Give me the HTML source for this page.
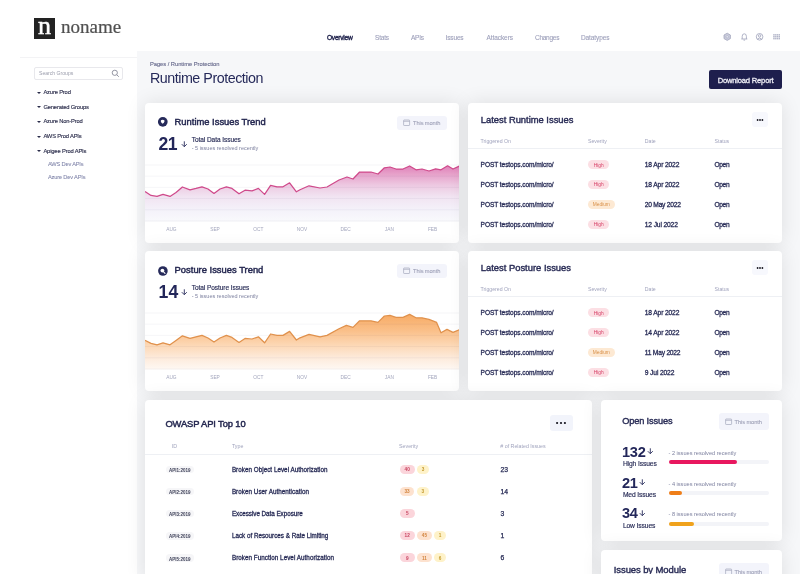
<!DOCTYPE html>
<html><head><meta charset="utf-8">
<style>
*{box-sizing:border-box;margin:0;padding:0}
html,body{width:800px;height:578px;overflow:hidden;background:#fff}
body{position:relative;font-family:"Liberation Sans",Arial,sans-serif;color:#23275a}
.a{position:absolute;white-space:nowrap;line-height:1}
.tri{position:absolute;left:36.9px;width:0;height:0;border-left:2.1px solid transparent;border-right:2.1px solid transparent;border-top:2.6px solid #2a2c4a}
</style></head><body>
<div class="a" style="left:34.00px;top:18.00px;width:21.00px;height:21.00px;background:#222"></div>
<div class="a" style="left:38px;top:13.8px;font-family:'Liberation Serif',serif;font-size:26px;color:#fff;line-height:24px;-webkit-text-stroke:0.5px #fff">n</div>
<div class="a" style="left:61px;top:15px;font-family:'Liberation Serif',serif;font-size:19px;color:#505050;line-height:24px;-webkit-text-stroke:0.22px #505050">noname</div>
<div class="a " style="left:327.00px;top:35px;font-size:6.6px;color:#23264f;letter-spacing:-0.255px;-webkit-text-stroke:0.38px #23264f;">Overview</div>
<div class="a " style="left:375.00px;top:35px;font-size:6.5px;color:#9c9fba;letter-spacing:-0.205px;-webkit-text-stroke:0.1px #9c9fba;">Stats</div>
<div class="a " style="left:411.00px;top:35px;font-size:6.5px;color:#9c9fba;letter-spacing:-0.238px;-webkit-text-stroke:0.1px #9c9fba;">APIs</div>
<div class="a " style="left:445.60px;top:35px;font-size:6.5px;color:#9c9fba;letter-spacing:-0.157px;-webkit-text-stroke:0.1px #9c9fba;">Issues</div>
<div class="a " style="left:486.40px;top:35px;font-size:6.5px;color:#9c9fba;letter-spacing:-0.063px;-webkit-text-stroke:0.1px #9c9fba;">Attackers</div>
<div class="a " style="left:535.00px;top:35px;font-size:6.5px;color:#9c9fba;letter-spacing:-0.267px;-webkit-text-stroke:0.1px #9c9fba;">Changes</div>
<div class="a " style="left:581.00px;top:35px;font-size:6.5px;color:#9c9fba;letter-spacing:-0.106px;-webkit-text-stroke:0.1px #9c9fba;">Datatypes</div>
<svg class="a" style="left:722px;top:32px" width="60" height="10" viewBox="0 0 60 10">
 <path d="M5.2 1.2 L8.4 3 L8.4 6.6 L5.2 8.4 L2.0 6.6 L2.0 3 Z" fill="#c9cbdb" stroke="#a3a6bd" stroke-width="0.8"/>
 <circle cx="5.2" cy="4.8" r="1.2" fill="#eceef5" stroke="#a3a6bd" stroke-width="0.6"/>
 <g fill="none" stroke="#a3a6bd" stroke-width="0.85">
  <path d="M19.3 7 L25.3 7 M20.2 7 L20.2 4.4 Q20.2 1.8 22.3 1.8 Q24.4 1.8 24.4 4.4 L24.4 7 M21.5 8.1 L23.1 8.1"/>
  <circle cx="37.6" cy="4.8" r="3.3"/>
  <circle cx="37.6" cy="3.9" r="1.2"/>
  <path d="M35.4 7.2 Q37.6 4.9 39.8 7.2"/>
 </g>
 <g fill="#b3b6c9">
  <rect x="51.2" y="2.1" width="1.5" height="1.5"/><rect x="53.1" y="2.1" width="1.5" height="1.5"/><rect x="55" y="2.1" width="1.5" height="1.5"/><rect x="56.9" y="2.1" width="1.1" height="1.5"/>
  <rect x="51.2" y="4" width="1.5" height="1.5"/><rect x="53.1" y="4" width="1.5" height="1.5"/><rect x="55" y="4" width="1.5" height="1.5"/><rect x="56.9" y="4" width="1.1" height="1.5"/>
  <rect x="51.2" y="5.9" width="1.5" height="1.5"/><rect x="53.1" y="5.9" width="1.5" height="1.5"/><rect x="55" y="5.9" width="1.5" height="1.5"/><rect x="56.9" y="5.9" width="1.1" height="1.5"/>
 </g>
</svg>
<div class="a" style="left:20.00px;top:57.20px;width:117.00px;height:1.00px;background:#f3f3f5"></div>
<div class="a" style="left:33.50px;top:66.50px;width:89.00px;height:13.00px;border:1px solid #e8e8ec;border-radius:2px"></div>
<div class="a " style="left:39.00px;top:71px;font-size:5.1px;color:#9a9cab;">Search Groups</div>
<svg class="a" style="left:111px;top:69px" width="9" height="9" viewBox="0 0 9 9"><g fill="none" stroke="#888a99" stroke-width="0.9"><circle cx="3.8" cy="3.8" r="2.6"/><path d="M5.7 5.7 L7.8 7.8"/></g></svg>
<div class="tri" style="top:91.7px"></div>
<div class="a " style="left:43.40px;top:90px;font-size:5.8px;color:#2c2e4c;letter-spacing:-0.167px;-webkit-text-stroke:0.14px #2c2e4c;">Azure Prod</div>
<div class="tri" style="top:106.3px"></div>
<div class="a " style="left:43.40px;top:105px;font-size:5.8px;color:#2c2e4c;letter-spacing:-0.166px;-webkit-text-stroke:0.14px #2c2e4c;">Generated Groups</div>
<div class="tri" style="top:120.7px"></div>
<div class="a " style="left:43.40px;top:119px;font-size:5.8px;color:#2c2e4c;letter-spacing:-0.165px;-webkit-text-stroke:0.14px #2c2e4c;">Azure Non-Prod</div>
<div class="tri" style="top:135.5px"></div>
<div class="a " style="left:43.40px;top:134px;font-size:5.8px;color:#2c2e4c;letter-spacing:-0.174px;-webkit-text-stroke:0.14px #2c2e4c;">AWS Prod APIs</div>
<div class="tri" style="top:150.2px"></div>
<div class="a " style="left:43.40px;top:149px;font-size:5.8px;color:#2c2e4c;letter-spacing:-0.157px;-webkit-text-stroke:0.14px #2c2e4c;">Apigee Prod APIs</div>
<div class="a " style="left:47.90px;top:162px;font-size:5.7px;color:#7e82a8;letter-spacing:-0.181px;-webkit-text-stroke:0.05px #7e82a8;">AWS Dev APIs</div>
<div class="a " style="left:47.90px;top:175px;font-size:5.7px;color:#7e82a8;letter-spacing:-0.162px;-webkit-text-stroke:0.05px #7e82a8;">Azure Dev APIs</div>
<div class="a" style="left:137.00px;top:51.40px;width:663.00px;height:522.60px;background:#f6f7f9"></div>
<div class="a " style="left:149.90px;top:62px;font-size:5.8px;color:#66698c;letter-spacing:-0.039px;-webkit-text-stroke:0.12px #66698c;">Pages / Runtime Protection</div>
<div class="a " style="left:149.90px;top:71px;font-size:14.3px;color:#262a5a;letter-spacing:-0.47px">Runtime Protection</div>
<div class="a" style="left:709.00px;top:70.00px;width:73.20px;height:19.20px;background:#1e1f4d;border-radius:2px"></div>
<div class="a " style="left:717.70px;top:77px;font-size:7.6px;color:#ececf4;letter-spacing:-0.196px;-webkit-text-stroke:0.3px #ececf4;">Download Report</div>
<div class="a" style="left:145.00px;top:103.00px;width:314.00px;height:140.10px;background:#fff;border-radius:4px;box-shadow:0 0 20px rgba(0,0,0,0.1)"></div>
<svg class="a" style="left:158px;top:117.2px" width="10" height="10" viewBox="0 0 10 10"><circle cx="4.8" cy="4.85" r="4.85" fill="#262a5a"/><path d="M2.9 3.2 Q4.65 2.3 6.4 3.2 L6.4 4.6 Q6.2 6.2 4.65 6.8 Q3.1 6.2 2.9 4.6 Z" fill="#fff"/></svg>
<div class="a " style="left:174.60px;top:117px;font-size:9.4px;color:#23264f;letter-spacing:-0.002px;-webkit-text-stroke:0.45px #23264f;">Runtime Issues Trend</div>
<div class="a " style="left:158.50px;top:136px;font-size:17.6px;font-weight:bold;color:#23275a;letter-spacing:-0.6px">21</div>
<svg class="a" style="left:181px;top:140.6px" width="7" height="7" viewBox="0 0 7 7"><g fill="none" stroke="#262a5a" stroke-width="0.9"><path d="M3.3 0.3 L3.3 5.6 M0.8 3.2 L3.3 5.7 L5.8 3.2"/></g></svg>
<div class="a " style="left:191.70px;top:137px;font-size:6.5px;color:#262a55;letter-spacing:-0.048px;-webkit-text-stroke:0.15px #262a55;">Total Data Issues</div>
<div class="a " style="left:191.70px;top:146px;font-size:5.5px;color:#7d809f;">- 5 issues resolved recently</div>
<div class="a" style="left:397.00px;top:116.00px;width:49.50px;height:13.50px;background:#f3f4fb;border-radius:3px"></div>
<svg class="a" style="left:403.0px;top:119.2px" width="8" height="7" viewBox="0 0 8 7"><g fill="none" stroke="#a4a7bb" stroke-width="0.7"><rect x="0.6" y="1.0" width="6" height="5.5" rx="0.6"/><path d="M0.6 2.3 L6.6 2.3"/></g></svg>
<div class="a " style="left:413.00px;top:121px;font-size:5.7px;color:#9fa2b8;letter-spacing:-0.091px;-webkit-text-stroke:0.1px #9fa2b8;">This month</div>
<svg class="a" style="left:145px;top:155px" width="314" height="80" viewBox="0 0 314 80">
<defs><linearGradient id="g1" gradientUnits="userSpaceOnUse" x1="0" y1="10" x2="0" y2="66"><stop offset="0" stop-color="#e07fb8"/><stop offset="0.15" stop-color="#e6a0c9"/><stop offset="0.35" stop-color="#edc8e1"/><stop offset="0.55" stop-color="#f1e3f1"/><stop offset="0.8" stop-color="#f4f2fa"/><stop offset="1" stop-color="#f9f9fc"/></linearGradient></defs>
<path d="M0.0 36.0 L6.0 40.0 L12.0 41.0 L18.0 39.0 L25.0 41.0 L31.0 37.0 L37.4 31.6 L45.0 34.4 L51.0 33.0 L57.0 31.4 L63.0 33.6 L69.0 38.0 L75.0 33.6 L81.4 31.4 L87.0 33.0 L94.0 38.4 L100.0 34.8 L107.0 35.4 L113.4 33.0 L119.6 39.0 L125.6 30.0 L132.0 31.4 L138.0 31.4 L144.6 27.4 L151.4 36.4 L155.0 34.4 L164.0 30.4 L175.0 32.6 L182.0 31.6 L194.0 24.6 L202.0 21.6 L208.0 23.6 L214.6 16.6 L226.0 16.6 L233.0 18.6 L239.4 12.4 L245.0 11.6 L251.0 13.6 L258.0 13.6 L264.6 10.6 L271.0 14.4 L277.0 13.6 L284.0 15.6 L290.6 13.4 L296.0 14.4 L302.6 10.4 L308.0 13.6 L315.0 10.4 L315 66 L0 66 Z" transform="translate(0,0.4)" fill="url(#g1)" stroke="none"/>
<g stroke="rgba(20,30,80,0.05)" stroke-width="0.8"><line x1="0" x2="314" y1="10.0" y2="10.0"/><line x1="0" x2="314" y1="21.2" y2="21.2"/><line x1="0" x2="314" y1="32.4" y2="32.4"/><line x1="0" x2="314" y1="43.6" y2="43.6"/><line x1="0" x2="314" y1="54.8" y2="54.8"/><line x1="0" x2="314" y1="66.0" y2="66.0"/></g>
<path d="M0.0 36.0 L6.0 40.0 L12.0 41.0 L18.0 39.0 L25.0 41.0 L31.0 37.0 L37.4 31.6 L45.0 34.4 L51.0 33.0 L57.0 31.4 L63.0 33.6 L69.0 38.0 L75.0 33.6 L81.4 31.4 L87.0 33.0 L94.0 38.4 L100.0 34.8 L107.0 35.4 L113.4 33.0 L119.6 39.0 L125.6 30.0 L132.0 31.4 L138.0 31.4 L144.6 27.4 L151.4 36.4 L155.0 34.4 L164.0 30.4 L175.0 32.6 L182.0 31.6 L194.0 24.6 L202.0 21.6 L208.0 23.6 L214.6 16.6 L226.0 16.6 L233.0 18.6 L239.4 12.4 L245.0 11.6 L251.0 13.6 L258.0 13.6 L264.6 10.6 L271.0 14.4 L277.0 13.6 L284.0 15.6 L290.6 13.4 L296.0 14.4 L302.6 10.4 L308.0 13.6 L315.0 10.4" transform="translate(0,0.4)" fill="none" stroke="#cf4a8b" stroke-width="1.25" stroke-linejoin="round"/>
</svg>
<div class="a" style="left:156.4px;width:30px;text-align:center;top:228.34px;font-size:4.8px;color:#a3a6bd">AUG</div>
<div class="a" style="left:200px;width:30px;text-align:center;top:228.34px;font-size:4.8px;color:#a3a6bd">SEP</div>
<div class="a" style="left:243.39999999999998px;width:30px;text-align:center;top:228.34px;font-size:4.8px;color:#a3a6bd">OCT</div>
<div class="a" style="left:287px;width:30px;text-align:center;top:228.34px;font-size:4.8px;color:#a3a6bd">NOV</div>
<div class="a" style="left:330.6px;width:30px;text-align:center;top:228.34px;font-size:4.8px;color:#a3a6bd">DEC</div>
<div class="a" style="left:374.4px;width:30px;text-align:center;top:228.34px;font-size:4.8px;color:#a3a6bd">JAN</div>
<div class="a" style="left:417.6px;width:30px;text-align:center;top:228.34px;font-size:4.8px;color:#a3a6bd">FEB</div>
<div class="a" style="left:145.00px;top:251.00px;width:314.00px;height:140.10px;background:#fff;border-radius:4px;box-shadow:0 0 20px rgba(0,0,0,0.1)"></div>
<svg class="a" style="left:158px;top:265.5px" width="10" height="10" viewBox="0 0 10 10"><circle cx="4.9" cy="5" r="4.8" fill="#262a5a"/><circle cx="4.4" cy="4.6" r="1.9" fill="#fff"/><path d="M5.6 5.9 L7.0 7.3" stroke="#fff" stroke-width="1.1" stroke-linecap="round"/></svg>
<div class="a " style="left:174.60px;top:265px;font-size:9.4px;color:#23264f;letter-spacing:0.007px;-webkit-text-stroke:0.45px #23264f;">Posture Issues Trend</div>
<div class="a " style="left:158.50px;top:284px;font-size:17.6px;font-weight:bold;color:#23275a;letter-spacing:0.1px">14</div>
<svg class="a" style="left:181px;top:288.6px" width="7" height="7" viewBox="0 0 7 7"><g fill="none" stroke="#262a5a" stroke-width="0.9"><path d="M3.3 0.3 L3.3 5.6 M0.8 3.2 L3.3 5.7 L5.8 3.2"/></g></svg>
<div class="a " style="left:191.70px;top:285px;font-size:6.5px;color:#262a55;letter-spacing:-0.047px;-webkit-text-stroke:0.15px #262a55;">Total Posture Issues</div>
<div class="a " style="left:191.70px;top:294px;font-size:5.5px;color:#7d809f;">- 5 issues resolved recently</div>
<div class="a" style="left:397.00px;top:264.00px;width:49.50px;height:13.50px;background:#f3f4fb;border-radius:3px"></div>
<svg class="a" style="left:403.0px;top:267.1px" width="8" height="7" viewBox="0 0 8 7"><g fill="none" stroke="#a4a7bb" stroke-width="0.7"><rect x="0.6" y="1.0" width="6" height="5.5" rx="0.6"/><path d="M0.6 2.3 L6.6 2.3"/></g></svg>
<div class="a " style="left:413.00px;top:269px;font-size:5.7px;color:#9fa2b8;letter-spacing:-0.091px;-webkit-text-stroke:0.1px #9fa2b8;">This month</div>
<svg class="a" style="left:145px;top:303px" width="314" height="80" viewBox="0 0 314 80">
<defs><linearGradient id="g2" gradientUnits="userSpaceOnUse" x1="0" y1="10" x2="0" y2="66"><stop offset="0" stop-color="#f7aa63"/><stop offset="0.3" stop-color="#fabf88"/><stop offset="0.55" stop-color="#fcd6b2"/><stop offset="0.8" stop-color="#fdebdc"/><stop offset="1" stop-color="#fef8f3"/></linearGradient></defs>
<path d="M0.0 37.0 L6.0 40.0 L12.0 41.4 L18.0 39.4 L25.0 41.4 L31.0 37.0 L37.4 32.4 L45.0 35.0 L51.0 33.4 L57.0 32.0 L63.0 34.6 L69.0 38.6 L75.0 34.6 L81.4 32.0 L87.0 34.0 L94.0 39.0 L100.0 35.0 L107.0 35.6 L113.4 33.4 L119.6 39.4 L125.6 30.6 L132.0 32.0 L138.0 32.0 L144.6 28.0 L151.4 36.6 L155.0 34.4 L164.0 31.0 L175.0 33.4 L182.0 32.0 L194.0 25.4 L201.4 22.0 L208.0 24.0 L214.6 17.4 L226.0 17.4 L233.0 19.0 L239.4 12.6 L245.0 12.0 L251.0 14.0 L258.0 14.0 L264.6 11.0 L271.0 14.4 L277.0 14.4 L284.0 16.0 L291.6 19.0 L296.0 29.4 L302.0 26.0 L308.0 29.0 L315.0 26.0 L315 66 L0 66 Z" transform="translate(0,0.4)" fill="url(#g2)" stroke="none"/>
<g stroke="rgba(20,30,80,0.05)" stroke-width="0.8"><line x1="0" x2="314" y1="10.0" y2="10.0"/><line x1="0" x2="314" y1="21.2" y2="21.2"/><line x1="0" x2="314" y1="32.4" y2="32.4"/><line x1="0" x2="314" y1="43.6" y2="43.6"/><line x1="0" x2="314" y1="54.8" y2="54.8"/><line x1="0" x2="314" y1="66.0" y2="66.0"/></g>
<path d="M0.0 37.0 L6.0 40.0 L12.0 41.4 L18.0 39.4 L25.0 41.4 L31.0 37.0 L37.4 32.4 L45.0 35.0 L51.0 33.4 L57.0 32.0 L63.0 34.6 L69.0 38.6 L75.0 34.6 L81.4 32.0 L87.0 34.0 L94.0 39.0 L100.0 35.0 L107.0 35.6 L113.4 33.4 L119.6 39.4 L125.6 30.6 L132.0 32.0 L138.0 32.0 L144.6 28.0 L151.4 36.6 L155.0 34.4 L164.0 31.0 L175.0 33.4 L182.0 32.0 L194.0 25.4 L201.4 22.0 L208.0 24.0 L214.6 17.4 L226.0 17.4 L233.0 19.0 L239.4 12.6 L245.0 12.0 L251.0 14.0 L258.0 14.0 L264.6 11.0 L271.0 14.4 L277.0 14.4 L284.0 16.0 L291.6 19.0 L296.0 29.4 L302.0 26.0 L308.0 29.0 L315.0 26.0" transform="translate(0,0.4)" fill="none" stroke="#e0914c" stroke-width="1.25" stroke-linejoin="round"/>
</svg>
<div class="a" style="left:156.4px;width:30px;text-align:center;top:376.34px;font-size:4.8px;color:#a3a6bd">AUG</div>
<div class="a" style="left:200px;width:30px;text-align:center;top:376.34px;font-size:4.8px;color:#a3a6bd">SEP</div>
<div class="a" style="left:243.39999999999998px;width:30px;text-align:center;top:376.34px;font-size:4.8px;color:#a3a6bd">OCT</div>
<div class="a" style="left:287px;width:30px;text-align:center;top:376.34px;font-size:4.8px;color:#a3a6bd">NOV</div>
<div class="a" style="left:330.6px;width:30px;text-align:center;top:376.34px;font-size:4.8px;color:#a3a6bd">DEC</div>
<div class="a" style="left:374.4px;width:30px;text-align:center;top:376.34px;font-size:4.8px;color:#a3a6bd">JAN</div>
<div class="a" style="left:417.6px;width:30px;text-align:center;top:376.34px;font-size:4.8px;color:#a3a6bd">FEB</div>
<div class="a" style="left:468.00px;top:103.00px;width:314.00px;height:140.10px;background:#fff;border-radius:4px;box-shadow:0 0 20px rgba(0,0,0,0.1)"></div>
<div class="a " style="left:480.80px;top:115px;font-size:9.4px;color:#282b55;letter-spacing:-0.006px;-webkit-text-stroke:0.4px #282b55;">Latest Runtime Issues</div>
<div class="a" style="left:752.40px;top:112.00px;width:16.10px;height:15.30px;background:#f7f8fd;border-radius:3px"></div>
<svg class="a" style="left:752.45px;top:115.65px" width="16" height="8" viewBox="0 0 16 8"><g fill="#15151f"><circle cx="5.60" cy="4" r="0.9"/><circle cx="8.00" cy="4" r="0.9"/><circle cx="10.40" cy="4" r="0.9"/></g></svg>
<div class="a " style="left:480.60px;top:139px;font-size:5.2px;color:#a0a3bd;">Triggered On</div>
<div class="a " style="left:588.00px;top:139px;font-size:5.2px;color:#a0a3bd;">Severity</div>
<div class="a " style="left:644.80px;top:139px;font-size:5.2px;color:#a0a3bd;">Date</div>
<div class="a " style="left:714.50px;top:139px;font-size:5.2px;color:#a0a3bd;">Status</div>
<div class="a" style="left:468.00px;top:148.30px;width:314.00px;height:0.80px;background:#eef0f4"></div>
<div class="a " style="left:480.60px;top:162px;font-size:6.6px;color:#262a55;letter-spacing:-0.087px;-webkit-text-stroke:0.28px #262a55;">POST testops.com/micro/</div>
<div class="a" style="left:588.00px;top:160.20px;width:21.20px;height:9.20px;background:#fcdfe4;border-radius:4.6px"></div>
<div class="a " style="left:588.00px;top:164px;font-size:4.8px;color:#d63d64;width:21.4px;text-align:center">High</div>
<div class="a " style="left:644.80px;top:162px;font-size:6.7px;color:#262a55;letter-spacing:-0.152px;-webkit-text-stroke:0.28px #262a55;">18 Apr 2022</div>
<div class="a " style="left:714.50px;top:162px;font-size:6.6px;color:#262a55;letter-spacing:-0.355px;-webkit-text-stroke:0.28px #262a55;">Open</div>
<div class="a " style="left:480.60px;top:182px;font-size:6.6px;color:#262a55;letter-spacing:-0.087px;-webkit-text-stroke:0.28px #262a55;">POST testops.com/micro/</div>
<div class="a" style="left:588.00px;top:180.00px;width:21.20px;height:9.20px;background:#fcdfe4;border-radius:4.6px"></div>
<div class="a " style="left:588.00px;top:183px;font-size:4.8px;color:#d63d64;width:21.4px;text-align:center">High</div>
<div class="a " style="left:644.80px;top:182px;font-size:6.7px;color:#262a55;letter-spacing:-0.152px;-webkit-text-stroke:0.28px #262a55;">18 Apr 2022</div>
<div class="a " style="left:714.50px;top:182px;font-size:6.6px;color:#262a55;letter-spacing:-0.355px;-webkit-text-stroke:0.28px #262a55;">Open</div>
<div class="a " style="left:480.60px;top:202px;font-size:6.6px;color:#262a55;letter-spacing:-0.087px;-webkit-text-stroke:0.28px #262a55;">POST testops.com/micro/</div>
<div class="a" style="left:588.00px;top:199.80px;width:26.60px;height:9.20px;background:#fde9d3;border-radius:4.6px"></div>
<div class="a " style="left:588.00px;top:203px;font-size:4.8px;color:#d8914a;width:26.6px;text-align:center">Medium</div>
<div class="a " style="left:644.80px;top:202px;font-size:6.7px;color:#262a55;letter-spacing:-0.252px;-webkit-text-stroke:0.28px #262a55;">20 May 2022</div>
<div class="a " style="left:714.50px;top:202px;font-size:6.6px;color:#262a55;letter-spacing:-0.355px;-webkit-text-stroke:0.28px #262a55;">Open</div>
<div class="a " style="left:480.60px;top:222px;font-size:6.6px;color:#262a55;letter-spacing:-0.087px;-webkit-text-stroke:0.28px #262a55;">POST testops.com/micro/</div>
<div class="a" style="left:588.00px;top:219.60px;width:21.20px;height:9.20px;background:#fcdfe4;border-radius:4.6px"></div>
<div class="a " style="left:588.00px;top:223px;font-size:4.8px;color:#d63d64;width:21.4px;text-align:center">High</div>
<div class="a " style="left:644.80px;top:222px;font-size:6.7px;color:#262a55;letter-spacing:-0.153px;-webkit-text-stroke:0.28px #262a55;">12 Jul 2022</div>
<div class="a " style="left:714.50px;top:222px;font-size:6.6px;color:#262a55;letter-spacing:-0.355px;-webkit-text-stroke:0.28px #262a55;">Open</div>
<div class="a" style="left:468.00px;top:251.00px;width:314.00px;height:140.10px;background:#fff;border-radius:4px;box-shadow:0 0 20px rgba(0,0,0,0.1)"></div>
<div class="a " style="left:480.80px;top:263px;font-size:9.4px;color:#282b55;letter-spacing:0.002px;-webkit-text-stroke:0.4px #282b55;">Latest Posture Issues</div>
<div class="a" style="left:752.40px;top:260.00px;width:16.10px;height:15.30px;background:#f7f8fd;border-radius:3px"></div>
<svg class="a" style="left:752.45px;top:263.65px" width="16" height="8" viewBox="0 0 16 8"><g fill="#15151f"><circle cx="5.60" cy="4" r="0.9"/><circle cx="8.00" cy="4" r="0.9"/><circle cx="10.40" cy="4" r="0.9"/></g></svg>
<div class="a " style="left:480.60px;top:287px;font-size:5.2px;color:#a0a3bd;">Triggered On</div>
<div class="a " style="left:588.00px;top:287px;font-size:5.2px;color:#a0a3bd;">Severity</div>
<div class="a " style="left:644.80px;top:287px;font-size:5.2px;color:#a0a3bd;">Date</div>
<div class="a " style="left:714.50px;top:287px;font-size:5.2px;color:#a0a3bd;">Status</div>
<div class="a" style="left:468.00px;top:296.30px;width:314.00px;height:0.80px;background:#eef0f4"></div>
<div class="a " style="left:480.60px;top:310px;font-size:6.6px;color:#262a55;letter-spacing:-0.087px;-webkit-text-stroke:0.28px #262a55;">POST testops.com/micro/</div>
<div class="a" style="left:588.00px;top:308.20px;width:21.20px;height:9.20px;background:#fcdfe4;border-radius:4.6px"></div>
<div class="a " style="left:588.00px;top:312px;font-size:4.8px;color:#d63d64;width:21.4px;text-align:center">High</div>
<div class="a " style="left:644.80px;top:310px;font-size:6.7px;color:#262a55;letter-spacing:-0.152px;-webkit-text-stroke:0.28px #262a55;">18 Apr 2022</div>
<div class="a " style="left:714.50px;top:310px;font-size:6.6px;color:#262a55;letter-spacing:-0.355px;-webkit-text-stroke:0.28px #262a55;">Open</div>
<div class="a " style="left:480.60px;top:330px;font-size:6.6px;color:#262a55;letter-spacing:-0.087px;-webkit-text-stroke:0.28px #262a55;">POST testops.com/micro/</div>
<div class="a" style="left:588.00px;top:328.00px;width:21.20px;height:9.20px;background:#fcdfe4;border-radius:4.6px"></div>
<div class="a " style="left:588.00px;top:331px;font-size:4.8px;color:#d63d64;width:21.4px;text-align:center">High</div>
<div class="a " style="left:644.80px;top:330px;font-size:6.7px;color:#262a55;letter-spacing:-0.152px;-webkit-text-stroke:0.28px #262a55;">14 Apr 2022</div>
<div class="a " style="left:714.50px;top:330px;font-size:6.6px;color:#262a55;letter-spacing:-0.355px;-webkit-text-stroke:0.28px #262a55;">Open</div>
<div class="a " style="left:480.60px;top:350px;font-size:6.6px;color:#262a55;letter-spacing:-0.087px;-webkit-text-stroke:0.28px #262a55;">POST testops.com/micro/</div>
<div class="a" style="left:588.00px;top:347.80px;width:26.60px;height:9.20px;background:#fde9d3;border-radius:4.6px"></div>
<div class="a " style="left:588.00px;top:351px;font-size:4.8px;color:#d8914a;width:26.6px;text-align:center">Medium</div>
<div class="a " style="left:644.80px;top:350px;font-size:6.7px;color:#262a55;letter-spacing:-0.242px;-webkit-text-stroke:0.28px #262a55;">11 May 2022</div>
<div class="a " style="left:714.50px;top:350px;font-size:6.6px;color:#262a55;letter-spacing:-0.355px;-webkit-text-stroke:0.28px #262a55;">Open</div>
<div class="a " style="left:480.60px;top:370px;font-size:6.6px;color:#262a55;letter-spacing:-0.087px;-webkit-text-stroke:0.28px #262a55;">POST testops.com/micro/</div>
<div class="a" style="left:588.00px;top:367.60px;width:21.20px;height:9.20px;background:#fcdfe4;border-radius:4.6px"></div>
<div class="a " style="left:588.00px;top:371px;font-size:4.8px;color:#d63d64;width:21.4px;text-align:center">High</div>
<div class="a " style="left:644.80px;top:370px;font-size:6.7px;color:#262a55;letter-spacing:-0.139px;-webkit-text-stroke:0.28px #262a55;">9 Jul 2022</div>
<div class="a " style="left:714.50px;top:370px;font-size:6.6px;color:#262a55;letter-spacing:-0.355px;-webkit-text-stroke:0.28px #262a55;">Open</div>
<div class="a" style="left:145.00px;top:400.00px;width:446.50px;height:180.00px;background:#fff;border-radius:4px;box-shadow:0 0 20px rgba(0,0,0,0.1)"></div>
<div class="a " style="left:165.40px;top:419px;font-size:9.4px;color:#23264f;letter-spacing:-0.130px;-webkit-text-stroke:0.45px #23264f;">OWASP API Top 10</div>
<div class="a" style="left:549.70px;top:414.70px;width:23.00px;height:16.30px;background:#f2f4fb;border-radius:3px"></div>
<svg class="a" style="left:553.20px;top:418.85px" width="16" height="8" viewBox="0 0 16 8"><g fill="#15151f"><circle cx="4.10" cy="4" r="1.1"/><circle cx="8.00" cy="4" r="1.1"/><circle cx="11.90" cy="4" r="1.1"/></g></svg>
<div class="a " style="left:171.70px;top:444px;font-size:5.3px;color:#a0a3bd;">ID</div>
<div class="a " style="left:231.90px;top:444px;font-size:5.3px;color:#a0a3bd;">Type</div>
<div class="a " style="left:399.00px;top:444px;font-size:5.3px;color:#a0a3bd;">Severity</div>
<div class="a " style="left:500.30px;top:444px;font-size:5.3px;color:#a0a3bd;"># of Related Issues</div>
<div class="a" style="left:145.00px;top:454.20px;width:446.50px;height:0.80px;background:#eef0f4"></div>
<div class="a" style="left:165.80px;top:465.80px;width:27.80px;height:7.40px;background:#f6f6f8;border-radius:3.7px"></div>
<div class="a " style="left:165.80px;top:469px;font-size:4.5px;font-weight:bold;color:#3a3d55;width:27.8px;text-align:center">API1:2019</div>
<div class="a " style="left:231.90px;top:467px;font-size:6.3px;color:#262a55;letter-spacing:0.024px;-webkit-text-stroke:0.28px #262a55;">Broken Object Level Authorization</div>
<div class="a" style="left:399.80px;top:464.70px;width:14.80px;height:9.00px;background:#fbd5db;border-radius:4.5px"></div>
<div class="a " style="left:399.80px;top:468px;font-size:4.7px;font-weight:bold;color:#c7435f;width:14.8px;text-align:center">40</div>
<div class="a" style="left:417.10px;top:464.70px;width:11.80px;height:9.00px;background:#fef2c9;border-radius:4.5px"></div>
<div class="a " style="left:417.10px;top:468px;font-size:4.7px;font-weight:bold;color:#c49a30;width:11.8px;text-align:center">3</div>
<div class="a " style="left:500.60px;top:467px;font-size:6.8px;color:#262a55;letter-spacing:-0.222px;-webkit-text-stroke:0.25px #262a55;">23</div>
<div class="a" style="left:165.80px;top:487.95px;width:27.80px;height:7.40px;background:#f6f6f8;border-radius:3.7px"></div>
<div class="a " style="left:165.80px;top:491px;font-size:4.5px;font-weight:bold;color:#3a3d55;width:27.8px;text-align:center">API2:2019</div>
<div class="a " style="left:231.90px;top:489px;font-size:6.3px;color:#262a55;letter-spacing:0.032px;-webkit-text-stroke:0.28px #262a55;">Broken User Authentication</div>
<div class="a" style="left:399.80px;top:486.85px;width:14.60px;height:9.00px;background:#fde2cf;border-radius:4.5px"></div>
<div class="a " style="left:399.80px;top:490px;font-size:4.7px;font-weight:bold;color:#d28540;width:14.6px;text-align:center">33</div>
<div class="a" style="left:416.90px;top:486.85px;width:11.80px;height:9.00px;background:#fef2c9;border-radius:4.5px"></div>
<div class="a " style="left:416.90px;top:490px;font-size:4.7px;font-weight:bold;color:#c49a30;width:11.8px;text-align:center">3</div>
<div class="a " style="left:500.60px;top:489px;font-size:6.8px;color:#262a55;letter-spacing:-0.156px;-webkit-text-stroke:0.25px #262a55;">14</div>
<div class="a" style="left:165.80px;top:510.10px;width:27.80px;height:7.40px;background:#f6f6f8;border-radius:3.7px"></div>
<div class="a " style="left:165.80px;top:513px;font-size:4.5px;font-weight:bold;color:#3a3d55;width:27.8px;text-align:center">API3:2019</div>
<div class="a " style="left:231.90px;top:511px;font-size:6.3px;color:#262a55;letter-spacing:-0.039px;-webkit-text-stroke:0.28px #262a55;">Excessive Data Exposure</div>
<div class="a" style="left:399.80px;top:509.00px;width:14.80px;height:9.00px;background:#fbd5db;border-radius:4.5px"></div>
<div class="a " style="left:399.80px;top:512px;font-size:4.7px;font-weight:bold;color:#c7435f;width:14.8px;text-align:center">5</div>
<div class="a " style="left:500.60px;top:511px;font-size:6.8px;color:#262a55;letter-spacing:-0.112px;-webkit-text-stroke:0.25px #262a55;">3</div>
<div class="a" style="left:165.80px;top:532.25px;width:27.80px;height:7.40px;background:#f6f6f8;border-radius:3.7px"></div>
<div class="a " style="left:165.80px;top:535px;font-size:4.5px;font-weight:bold;color:#3a3d55;width:27.8px;text-align:center">API4:2019</div>
<div class="a " style="left:231.90px;top:533px;font-size:6.3px;color:#262a55;letter-spacing:-0.004px;-webkit-text-stroke:0.28px #262a55;">Lack of Resources &amp; Rate Limiting</div>
<div class="a" style="left:399.80px;top:531.15px;width:14.80px;height:9.00px;background:#fbd5db;border-radius:4.5px"></div>
<div class="a " style="left:399.80px;top:534px;font-size:4.7px;font-weight:bold;color:#c7435f;width:14.8px;text-align:center">12</div>
<div class="a" style="left:417.10px;top:531.15px;width:14.60px;height:9.00px;background:#fde2cf;border-radius:4.5px"></div>
<div class="a " style="left:417.10px;top:534px;font-size:4.7px;font-weight:bold;color:#d28540;width:14.6px;text-align:center">45</div>
<div class="a" style="left:434.20px;top:531.15px;width:11.80px;height:9.00px;background:#fef2c9;border-radius:4.5px"></div>
<div class="a " style="left:434.20px;top:534px;font-size:4.7px;font-weight:bold;color:#c49a30;width:11.8px;text-align:center">1</div>
<div class="a " style="left:500.60px;top:533px;font-size:6.8px;color:#262a55;letter-spacing:-0.112px;-webkit-text-stroke:0.25px #262a55;">1</div>
<div class="a" style="left:165.80px;top:554.40px;width:27.80px;height:7.40px;background:#f6f6f8;border-radius:3.7px"></div>
<div class="a " style="left:165.80px;top:558px;font-size:4.5px;font-weight:bold;color:#3a3d55;width:27.8px;text-align:center">API5:2019</div>
<div class="a " style="left:231.90px;top:555px;font-size:6.3px;color:#262a55;letter-spacing:0.038px;-webkit-text-stroke:0.28px #262a55;">Broken Function Level Authorization</div>
<div class="a" style="left:399.80px;top:553.30px;width:14.80px;height:9.00px;background:#fbd5db;border-radius:4.5px"></div>
<div class="a " style="left:399.80px;top:557px;font-size:4.7px;font-weight:bold;color:#c7435f;width:14.8px;text-align:center">9</div>
<div class="a" style="left:417.10px;top:553.30px;width:14.60px;height:9.00px;background:#fde2cf;border-radius:4.5px"></div>
<div class="a " style="left:417.10px;top:557px;font-size:4.7px;font-weight:bold;color:#d28540;width:14.6px;text-align:center">11</div>
<div class="a" style="left:434.20px;top:553.30px;width:11.80px;height:9.00px;background:#fef2c9;border-radius:4.5px"></div>
<div class="a " style="left:434.20px;top:557px;font-size:4.7px;font-weight:bold;color:#c49a30;width:11.8px;text-align:center">6</div>
<div class="a " style="left:500.60px;top:555px;font-size:6.8px;color:#262a55;letter-spacing:-0.112px;-webkit-text-stroke:0.25px #262a55;">6</div>
<div class="a" style="left:600.50px;top:400.00px;width:181.50px;height:141.00px;background:#fff;border-radius:4px;box-shadow:0 0 20px rgba(0,0,0,0.1)"></div>
<div class="a " style="left:622.20px;top:417px;font-size:9.2px;color:#282b55;letter-spacing:-0.121px;-webkit-text-stroke:0.4px #282b55;">Open Issues</div>
<div class="a" style="left:718.60px;top:413.00px;width:50.70px;height:16.90px;background:#f3f4fb;border-radius:3px"></div>
<svg class="a" style="left:724.6px;top:417.8px" width="8" height="7" viewBox="0 0 8 7"><g fill="none" stroke="#a4a7bb" stroke-width="0.7"><rect x="0.6" y="1.0" width="6" height="5.5" rx="0.6"/><path d="M0.6 2.3 L6.6 2.3"/></g></svg>
<div class="a " style="left:734.60px;top:420px;font-size:5.7px;color:#9fa2b8;letter-spacing:-0.091px;-webkit-text-stroke:0.1px #9fa2b8;">This month</div>
<div class="a " style="left:622.00px;top:445px;font-size:14.6px;font-weight:bold;color:#23275a;letter-spacing:-0.3px">132</div>
<svg class="a" style="left:647.2px;top:448.4px" width="7" height="7" viewBox="0 0 7 7"><g fill="none" stroke="#262a5a" stroke-width="0.9"><path d="M3.3 0.3 L3.3 5.6 M0.8 3.2 L3.3 5.7 L5.8 3.2"/></g></svg>
<div class="a " style="left:622.90px;top:461px;font-size:6.7px;color:#262a55;letter-spacing:-0.104px;-webkit-text-stroke:0.15px #262a55;">High Issues</div>
<div class="a " style="left:668.50px;top:451px;font-size:5.6px;color:#7d809f;">- 2 issues resolved recently</div>
<div class="a" style="left:668.50px;top:460.10px;width:100.80px;height:4.40px;background:#f3f4f8;border-radius:2.2px"></div>
<div class="a" style="left:668.50px;top:460.10px;width:68.10px;height:4.40px;background:#e8175f;border-radius:2.2px"></div>
<div class="a " style="left:622.00px;top:476px;font-size:14.6px;font-weight:bold;color:#23275a;letter-spacing:-0.3px">21</div>
<svg class="a" style="left:638.6px;top:479.2px" width="7" height="7" viewBox="0 0 7 7"><g fill="none" stroke="#262a5a" stroke-width="0.9"><path d="M3.3 0.3 L3.3 5.6 M0.8 3.2 L3.3 5.7 L5.8 3.2"/></g></svg>
<div class="a " style="left:622.90px;top:492px;font-size:6.7px;color:#262a55;letter-spacing:-0.114px;-webkit-text-stroke:0.15px #262a55;">Med Issues</div>
<div class="a " style="left:668.50px;top:482px;font-size:5.6px;color:#7d809f;">- 4 issues resolved recently</div>
<div class="a" style="left:668.50px;top:490.90px;width:100.80px;height:4.40px;background:#f3f4f8;border-radius:2.2px"></div>
<div class="a" style="left:668.50px;top:490.90px;width:13.60px;height:4.40px;background:#ef7e18;border-radius:2.2px"></div>
<div class="a " style="left:622.00px;top:506px;font-size:14.6px;font-weight:bold;color:#23275a;letter-spacing:-0.3px">34</div>
<svg class="a" style="left:638.6px;top:510.0px" width="7" height="7" viewBox="0 0 7 7"><g fill="none" stroke="#262a5a" stroke-width="0.9"><path d="M3.3 0.3 L3.3 5.6 M0.8 3.2 L3.3 5.7 L5.8 3.2"/></g></svg>
<div class="a " style="left:622.90px;top:523px;font-size:6.7px;color:#262a55;letter-spacing:-0.111px;-webkit-text-stroke:0.15px #262a55;">Low Issues</div>
<div class="a " style="left:668.50px;top:512px;font-size:5.6px;color:#7d809f;">- 8 issues resolved recently</div>
<div class="a" style="left:668.50px;top:521.70px;width:100.80px;height:4.40px;background:#f3f4f8;border-radius:2.2px"></div>
<div class="a" style="left:668.50px;top:521.70px;width:25.70px;height:4.40px;background:#f0a21c;border-radius:2.2px"></div>
<div class="a" style="left:600.50px;top:549.70px;width:181.50px;height:60.00px;background:#fff;border-radius:4px;box-shadow:0 0 20px rgba(0,0,0,0.1)"></div>
<div class="a " style="left:613.80px;top:565px;font-size:9.5px;color:#282b55;letter-spacing:-0.101px;-webkit-text-stroke:0.4px #282b55;">Issues by Module</div>
<div class="a" style="left:718.60px;top:563.00px;width:50.70px;height:16.90px;background:#f3f4fb;border-radius:3px"></div>
<svg class="a" style="left:724.6px;top:567.9px" width="8" height="7" viewBox="0 0 8 7"><g fill="none" stroke="#a4a7bb" stroke-width="0.7"><rect x="0.6" y="1.0" width="6" height="5.5" rx="0.6"/><path d="M0.6 2.3 L6.6 2.3"/></g></svg>
<div class="a " style="left:734.60px;top:570px;font-size:5.7px;color:#9fa2b8;letter-spacing:-0.091px;-webkit-text-stroke:0.1px #9fa2b8;">This month</div>
<div class="a" style="left:0.00px;top:574.00px;width:800.00px;height:4.00px;background:#fff"></div>
</body></html>
